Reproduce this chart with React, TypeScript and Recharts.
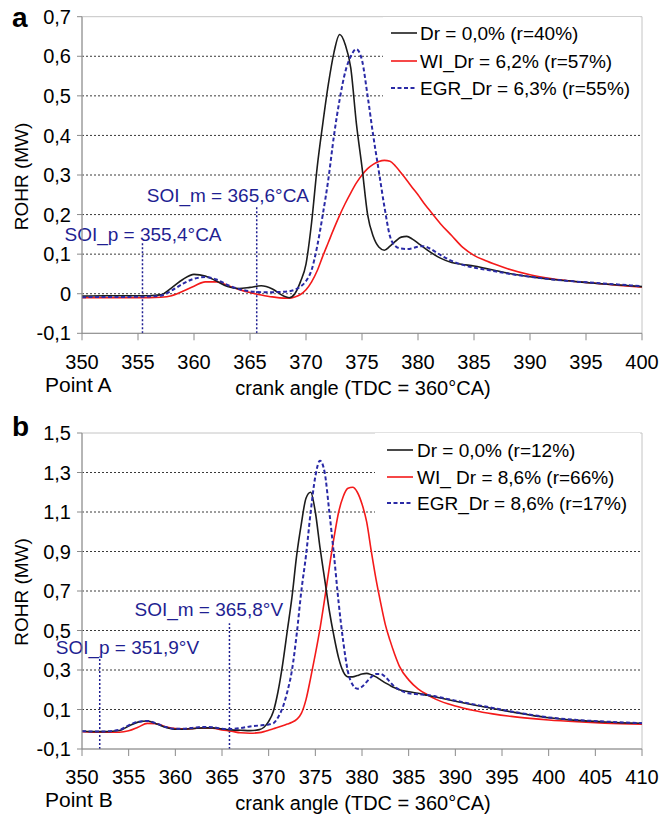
import { LineChart, Line, XAxis, YAxis, CartesianGrid, ReferenceLine, ReferenceArea, Legend } from 'recharts'

const FONT = '"Liberation Sans", Arial, sans-serif'
const SOI_COLOR = '#1f1f92'

// panel a (Point A)
const ANGLES_A = [
  350, 352, 354, 356, 357, 358, 359, 360, 361, 362, 363, 364, 365, 366, 367, 368,
  368.5, 369, 369.5, 370, 370.5, 371, 371.5, 372, 372.5, 373, 373.5, 374, 374.5, 375, 375.5,
  376, 376.5, 377, 377.5, 378, 378.5, 379, 379.5, 380, 380.5, 381,
  382, 383, 384, 385, 386, 387, 388, 390, 392, 394, 396, 398, 400,
]
const DR0_A = [
  -0.006, -0.005, -0.005, -0.005, -0.003, 0.015, 0.036, 0.049, 0.045, 0.032, 0.018, 0.013, 0.016, 0.02, 0.012, -0.006,
  -0.01, 0.0, 0.03, 0.075, 0.18, 0.32, 0.43, 0.53, 0.61, 0.655, 0.63, 0.57, 0.43, 0.32, 0.2,
  0.145, 0.118, 0.11, 0.12, 0.133, 0.143, 0.145, 0.138, 0.128, 0.117, 0.107,
  0.09, 0.079, 0.074, 0.07, 0.064, 0.058, 0.052, 0.043, 0.036, 0.031, 0.026, 0.022, 0.018,
]
const WI_A = [
  -0.01, -0.01, -0.01, -0.01, -0.009, -0.005, 0.006, 0.019, 0.03, 0.03, 0.021, 0.011, 0.003, -0.003, -0.008, -0.011,
  -0.011, -0.008, -0.002, 0.01, 0.03, 0.058, 0.095, 0.13, 0.165, 0.198, 0.228, 0.255, 0.28, 0.3, 0.316,
  0.327, 0.334, 0.337, 0.335, 0.322, 0.305, 0.287, 0.268, 0.25, 0.23, 0.212,
  0.177, 0.147, 0.117, 0.097, 0.084, 0.073, 0.063, 0.048, 0.038, 0.031, 0.026, 0.021, 0.017,
]
const EGR_A = [
  -0.009, -0.008, -0.008, -0.007, -0.005, 0.008, 0.025, 0.038, 0.042, 0.036, 0.022, 0.012, 0.006, 0.004, 0.004, 0.005,
  0.006, 0.01, 0.018, 0.032, 0.06, 0.12, 0.2, 0.29, 0.4, 0.49, 0.56, 0.6, 0.618, 0.59, 0.5,
  0.4, 0.31, 0.22, 0.145, 0.12, 0.114, 0.113, 0.115, 0.119, 0.12, 0.115,
  0.098, 0.083, 0.073, 0.066, 0.061, 0.056, 0.051, 0.043, 0.036, 0.031, 0.027, 0.023, 0.019,
]
const X_TICKS_A = [350, 355, 360, 365, 370, 375, 380, 385, 390, 395, 400]
const Y_TICKS_A = [-0.1, 0, 0.1, 0.2, 0.3, 0.4, 0.5, 0.6, 0.7]
const LEGEND_A = ['Dr = 0,0% (r=40%)', 'WI_Dr = 6,2% (r=57%)', 'EGR_Dr = 6,3% (r=55%)']

// panel b (Point B)
const ANGLES_B = [
  350, 352, 354, 355, 356, 357, 358, 359, 360, 361, 362, 363, 364, 365, 366, 367, 368, 369,
  369.5, 370, 370.5, 371, 371.5, 372, 372.5, 373, 373.5, 374, 374.5, 375, 375.5, 376, 376.5,
  377, 377.5, 378, 378.5, 379, 379.5, 380, 380.5, 381, 381.5, 382, 382.5, 383, 383.5, 384,
  385, 386, 387, 388, 390, 392, 394, 396, 398, 400, 403, 406, 410,
]
const DR0_B = [
  -0.01, -0.012, -0.006, 0.016, 0.036, 0.042, 0.027, 0.009, 0.0, 0.0, 0.004, 0.007, 0.007, 0.002, -0.003, -0.005, -0.007, -0.002,
  0.01, 0.04, 0.09, 0.19, 0.33, 0.5, 0.67, 0.88, 1.04, 1.17, 1.2, 1.1, 0.92, 0.76, 0.6,
  0.47, 0.36, 0.29, 0.265, 0.265, 0.272, 0.28, 0.283, 0.276, 0.265, 0.25, 0.235, 0.222, 0.21, 0.2,
  0.19, 0.182, 0.172, 0.162, 0.142, 0.123, 0.105, 0.088, 0.072, 0.058, 0.045, 0.037, 0.03,
]
const WI_B = [
  -0.012, -0.015, -0.015, -0.008, 0.01, 0.03, 0.028, 0.012, 0.003, 0.002, 0.004, 0.006, 0.005, -0.003, -0.01, -0.018, -0.02, -0.017,
  -0.012, -0.005, 0.002, 0.01, 0.018, 0.026, 0.035, 0.05, 0.08, 0.15, 0.26, 0.38, 0.51, 0.66, 0.82,
  0.97, 1.1, 1.18, 1.22, 1.225, 1.2, 1.14, 1.05, 0.9, 0.76, 0.64, 0.53, 0.45, 0.38, 0.32,
  0.25, 0.205, 0.175, 0.15, 0.118, 0.095, 0.078, 0.065, 0.055, 0.047, 0.038, 0.031, 0.025,
]
const EGR_B = [
  -0.01, -0.012, -0.003, 0.02, 0.038, 0.042, 0.029, 0.011, 0.002, 0.003, 0.008, 0.012, 0.01, 0.003, 0.001, 0.006, 0.014, 0.019,
  0.021, 0.024, 0.03, 0.06, 0.11, 0.19, 0.3, 0.48, 0.7, 0.88, 1.1, 1.28, 1.36, 1.3, 1.1,
  0.88, 0.64, 0.44, 0.29, 0.225, 0.205, 0.215, 0.24, 0.265, 0.28, 0.28, 0.265, 0.24, 0.215, 0.2,
  0.182, 0.177, 0.174, 0.165, 0.145, 0.126, 0.108, 0.09, 0.074, 0.06, 0.047, 0.039, 0.031,
]
const X_TICKS_B = [350, 355, 360, 365, 370, 375, 380, 385, 390, 395, 400, 405, 410]
const Y_TICKS_B = [-0.1, 0.1, 0.3, 0.5, 0.7, 0.9, 1.1, 1.3, 1.5]
const LEGEND_B = ['Dr = 0,0% (r=12%)', 'WI_ Dr = 8,6% (r=66%)', 'EGR_Dr = 8,6% (r=17%)']

const SERIES = [
  { key: 'dr0', color: '#1c1c1c', width: 1.6, dash: undefined as string | undefined },
  { key: 'wi', color: '#f41a1a', width: 1.6, dash: undefined as string | undefined },
  { key: 'egr', color: '#2a2aa6', width: 2, dash: '4 2.5' },
]

const fmt = (v: number) => (v === 0 ? '0' : v.toFixed(1).replace('.', ','))

type Soi = { x: number; top: number; text: string; dx: number; dy: number }

const SOI_A: Soi[] = [
  { x: 355.4, top: 0.132, text: 'SOI_p = 355,4°CA', dx: -78, dy: 0 },
  { x: 365.6, top: 0.22, text: 'SOI_m = 365,6°CA', dx: -110, dy: -5 },
]
const SOI_B: Soi[] = [
  { x: 351.9, top: 0.368, text: 'SOI_p = 351,9°V', dx: -44, dy: -3 },
  { x: 365.8, top: 0.537, text: 'SOI_m = 365,8°V', dx: -95, dy: -7 },
]

type PanelProps = {
  angles: number[]
  dr0: number[]
  wi: number[]
  egr: number[]
  xTicks: number[]
  yTicks: number[]
  legend: string[]
  soi: Soi[]
  height: number
  marginTop: number
  marginBottom: number
  legendBox: { left: number; top: number; width: number; height: number; iconX: number; textX: number; rows: number[] }
}

const Panel = (p: PanelProps) => {
  const data = p.angles.map((angle, i) => ({ angle, dr0: p.dr0[i], wi: p.wi[i], egr: p.egr[i] }))
  const xMin = p.xTicks[0]
  const xMax = p.xTicks[p.xTicks.length - 1]
  const yMin = p.yTicks[0]
  const yMax = p.yTicks[p.yTicks.length - 1]
  const lb = p.legendBox

  const legendContent = () => (
    <svg width={lb.width} height={lb.height} style={{ display: 'block', background: '#fff' }}>
      {SERIES.map((s, i) => (
        <g key={s.key}>
          <line x1={lb.iconX} x2={lb.iconX + 26} y1={lb.rows[i]} y2={lb.rows[i]} stroke={s.color} strokeWidth={s.width} strokeDasharray={s.dash} />
          <text x={lb.textX} y={lb.rows[i] + 7} fontSize={19} fill='#000' fontFamily={FONT}>
            {p.legend[i]}
          </text>
        </g>
      ))}
    </svg>
  )

  return (
    <LineChart
      width={672}
      height={p.height}
      data={data}
      margin={{ top: p.marginTop, right: 30, left: 22, bottom: p.marginBottom }}
      style={{ fontFamily: FONT }}
    >
      <CartesianGrid vertical={false} horizontalValues={p.yTicks.slice(1, -1)} stroke='#3a3a3a' strokeDasharray='2 2' />
      <ReferenceArea x1={xMin} x2={xMax} y1={yMin} y2={yMax} fill='none' fillOpacity={0} stroke='#c4c4c4' ifOverflow='visible' />
      <XAxis
        dataKey='angle'
        type='number'
        domain={[xMin, xMax]}
        ticks={p.xTicks}
        interval={0}
        height={30}
        tickSize={7}
        tickMargin={14}
        stroke='#8a8a8a'
        tick={{ fill: '#000', fontSize: 20 }}
        allowDataOverflow
      />
      <YAxis
        type='number'
        domain={[yMin, yMax]}
        ticks={p.yTicks}
        interval={0}
        width={60}
        tickSize={5}
        tickMargin={6}
        tickFormatter={fmt}
        stroke='#8a8a8a'
        tick={{ fill: '#000', fontSize: 20 }}
        allowDataOverflow
      />
      {p.soi.map((s) => (
        <ReferenceLine
          key={s.text}
          segment={[{ x: s.x, y: yMin }, { x: s.x, y: s.top }]}
          stroke={SOI_COLOR}
          strokeWidth={1.5}
          strokeDasharray='2 2'
          ifOverflow='visible'
          label={(lp: any) => (
            <text x={lp.viewBox.x + s.dx} y={lp.viewBox.y + s.dy} fill={SOI_COLOR} fontSize={19} fontFamily={FONT}>
              {s.text}
            </text>
          )}
        />
      ))}
      <Line type='monotone' dataKey='wi' stroke={SERIES[1].color} strokeWidth={SERIES[1].width} dot={false} activeDot={false} isAnimationActive={false} />
      <Line type='monotone' dataKey='dr0' stroke={SERIES[0].color} strokeWidth={SERIES[0].width} dot={false} activeDot={false} isAnimationActive={false} />
      <Line
        type='monotone'
        dataKey='egr'
        stroke={SERIES[2].color}
        strokeWidth={SERIES[2].width}
        strokeDasharray={SERIES[2].dash}
        dot={false}
        activeDot={false}
        isAnimationActive={false}
      />
      <Legend
        layout='vertical'
        align='center'
        verticalAlign='middle'
        width={lb.width}
        height={lb.height}
        content={legendContent}
        wrapperStyle={{ left: lb.left, top: lb.top, width: lb.width, height: lb.height, background: '#fff' }}
      />
    </LineChart>
  )
}

const App = () => {
  return (
    <div style={{ position: 'absolute', left: 0, top: 0, width: 672, height: 816, background: '#fff', fontFamily: FONT }}>
      <div style={{ position: 'absolute', left: 0, top: 0 }}>
        <Panel
          angles={ANGLES_A}
          dr0={DR0_A}
          wi={WI_A}
          egr={EGR_A}
          xTicks={X_TICKS_A}
          yTicks={Y_TICKS_A}
          legend={LEGEND_A}
          soi={SOI_A}
          height={400}
          marginTop={16.7}
          marginBottom={36.7}
          legendBox={{ left: 383, top: 17, width: 257, height: 95, iconX: 8, textX: 37, rows: [16, 44, 71] }}
        />
      </div>
      <div style={{ position: 'absolute', left: 0, top: 400 }}>
        <Panel
          angles={ANGLES_B}
          dr0={DR0_B}
          wi={WI_B}
          egr={EGR_B}
          xTicks={X_TICKS_B}
          yTicks={Y_TICKS_B}
          legend={LEGEND_B}
          soi={SOI_B}
          height={416}
          marginTop={33}
          marginBottom={37}
          legendBox={{ left: 375, top: 33, width: 265, height: 105, iconX: 12, textX: 42, rows: [17, 44, 70] }}
        />
      </div>
      <svg width={672} height={816} style={{ position: 'absolute', left: 0, top: 0, pointerEvents: 'none' }} fontFamily={FONT}>
        <text x={12} y={27} fontSize={28} fontWeight='bold'>a</text>
        <text x={12} y={436} fontSize={28} fontWeight='bold'>b</text>
        <text x={28} y={176.5} fontSize={19} textAnchor='middle' transform='rotate(-90 28 176.5)'>ROHR (MW)</text>
        <text x={28} y={592} fontSize={19} textAnchor='middle' transform='rotate(-90 28 592)'>ROHR (MW)</text>
        <text x={45} y={392} fontSize={21}>Point A</text>
        <text x={45} y={807} fontSize={21}>Point B</text>
        <text x={363} y={395} fontSize={20} textAnchor='middle'>crank angle (TDC = 360°CA)</text>
        <text x={363} y={810} fontSize={20} textAnchor='middle'>crank angle (TDC = 360°CA)</text>
      </svg>
    </div>
  )
}

export default App
